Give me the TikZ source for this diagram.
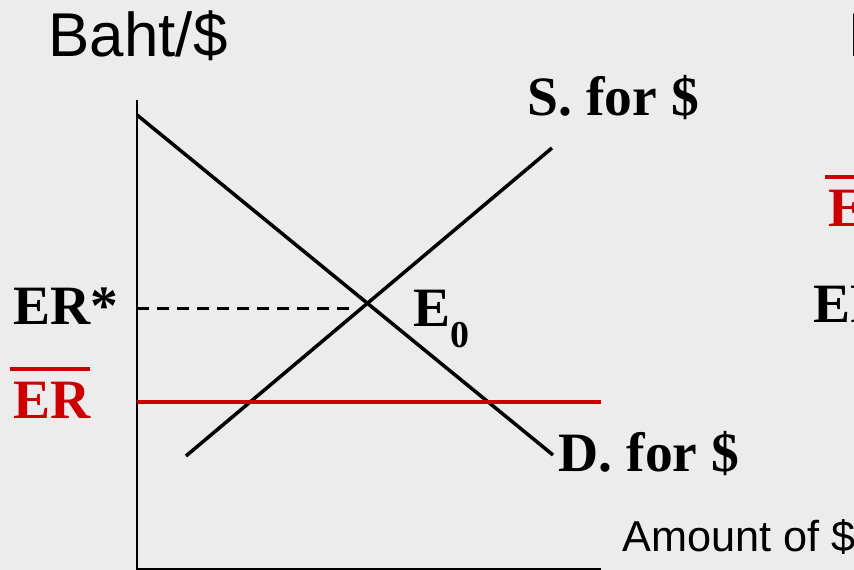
\documentclass[tikz,border=0pt]{standalone}
\usepackage{fontspec}
\setmainfont{Liberation Serif}
\setsansfont{Liberation Sans}
\definecolor{paper}{RGB}{236,236,236}
\definecolor{erred}{HTML}{CC0000}
\newcommand{\erbar}{\rlap{\hspace{-0.04cm}\rule[0.48cm]{0.80cm}{0.04cm}}ER}
\tikzset{
  curve/.style={line width=1.0pt},
  axis/.style={line width=0.8pt},
  lbl/.style={inner sep=0pt, anchor=base west, font=\bfseries\fontsize{15.8}{18}\selectfont},
  axlbl/.style={inner sep=0pt, anchor=base west, font=\sffamily\fontsize{17.6}{20}\selectfont},
}
\begin{document}
\begin{tikzpicture}
\useasboundingbox (0,0) rectangle (8.54,5.70);
\fill[paper] (0,0) rectangle (8.54,5.70);
\clip (0,0) rectangle (8.54,5.70);
\coordinate (O) at (1.37,0.01);
\coordinate (ytop) at (1.37,4.70);
\coordinate (xend) at (6.01,0.01);
\coordinate (d1) at (1.37,4.55);
\coordinate (d2) at (5.53,1.15);
\coordinate (s1) at (1.86,1.14);
\coordinate (s2) at (5.52,4.22);
\coordinate (dash1) at (1.37,2.61);
\coordinate (dash2) at (3.53,2.61);
\coordinate (erL) at (1.37,1.68);
\coordinate (erR) at (6.01,1.68);
\draw[axis] (ytop) -- (O) -- (xend);
\draw[curve] (d1) -- (d2);
\draw[curve] (s1) -- (s2);
\draw[line width=0.85pt, dash pattern=on 0.12cm off 0.08cm] (dash1) -- (dash2);
\draw[erred, line width=1.1pt] (erL) -- (erR);
\node[axlbl] (baht) at (0.48,5.13) {Baht/\$};
\node[axlbl] (baht2) at (8.48,5.13) {Baht/\$};
\node[lbl] (slbl) at (5.27,4.54) {S. for \$};
\node[lbl] (dlbl) at (5.58,0.98) {D. for \$};
\node[axlbl, font=\sffamily\fontsize{12.3}{14}\selectfont] (amount) at (6.22,0.18) {Amount of \$};
\node[lbl] (erstar) at (0.13,2.45) {ER*};
\node[lbl, erred] (erbar) at (0.13,1.51) {\erbar};
\node[lbl] (e0) at (4.13,2.43) {E\raisebox{-0.21cm}{\fontsize{10.8}{12}\selectfont 0}};
\node[lbl, erred] (erbar2) at (8.28,3.43) {\erbar};
\node[lbl] (erstar2) at (8.13,2.47) {ER*};
\end{tikzpicture}
\end{document}
